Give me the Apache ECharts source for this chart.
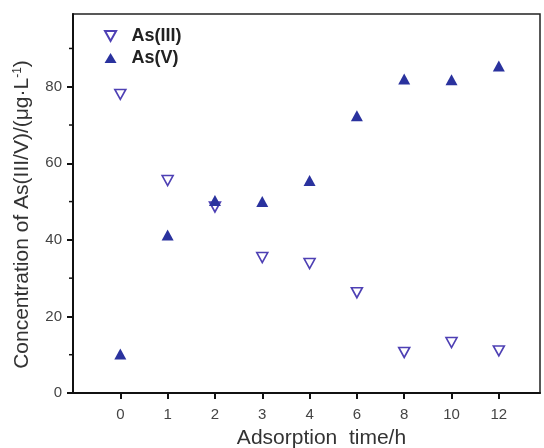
<!DOCTYPE html>
<html><head><meta charset="utf-8">
<script src="https://cdn.jsdelivr.net/npm/echarts@6/dist/echarts.min.js"></script>
<style>html,body{margin:0;padding:0;background:#fff}#c{width:544px;height:448px}</style>
</head><body><div id="c"></div>
<script>
const timeLabels = ['0','1','2','3','4','6','8','10','12'];
const as3 = [78, 55.5, 48.6, 35.4, 33.8, 26.2, 10.6, 13.2, 11.0];
const as5 = [10.2, 41.3, 50.3, 50.0, 55.5, 72.4, 82.0, 81.8, 85.4];
const yTicks = [0, 20, 40, 60, 80];

const xIdx = timeLabels.map((t, i) => i);
const downTri = 'path://M0,0 L10,0 L5,9 Z';
const chart = echarts.init(document.getElementById('c'));
const font = 'Liberation Sans, Arial, sans-serif';
chart.setOption({
  animation: false,
  backgroundColor: '#fff',
  grid: { left: 73, right: 4, top: 14, bottom: 55, show: true, borderColor: '#222', borderWidth: 1.5,
    containLabel: false, outerBoundsMode: 'none' },
  legend: {
    left: 99, top: 22, orient: 'vertical', itemGap: 4, itemWidth: 12, itemHeight: 10,
    textStyle: { fontFamily: font, fontSize: 18, fontWeight: 'bold', color: '#222', padding: [0, 0, 0, 10] },
    data: [{ name: 'As(III)', icon: downTri }, { name: 'As(V)', icon: 'triangle' }]
  },
  xAxis: {
    type: 'value', min: -1, max: 8.87,
    axisLine: { show: true, onZero: false, lineStyle: { color: '#111', width: 2 } },
    axisTick: { show: true, length: 6, customValues: xIdx, lineStyle: { color: '#111', width: 2 } },
    splitLine: { show: false },
    axisLabel: { fontFamily: font, fontSize: 15, color: '#444', margin: 14, customValues: xIdx,
      formatter: v => timeLabels[Math.round(v)] },
    name: 'Adsorption  time/h', nameLocation: 'middle', nameGap: 35,
    nameTextStyle: { fontFamily: font, fontSize: 21, color: '#333', padding: [0, 0, 0, 30] }
  },
  yAxis: {
    type: 'value', min: 0, max: 99, interval: 10,
    axisLine: { show: true, onZero: false, lineStyle: { color: '#111', width: 2 } },
    axisTick: { show: true, length: 6, customValues: yTicks, lineStyle: { color: '#111', width: 2 } },
    splitLine: { show: false },
    axisLabel: { fontFamily: font, fontSize: 15, color: '#444', margin: 11, customValues: yTicks },
    name: 'Concentration of As(III/V)/(μg·L{s|-1})', nameLocation: 'middle', nameGap: 40, nameRotate: 90,
    nameTextStyle: { fontFamily: font, fontSize: 21, color: '#333', padding: [0, 22, 0, 0],
      rich: { s: { fontFamily: font, fontSize: 12, color: '#333', verticalAlign: 'top', lineHeight: 12 } } }
  },
  series: [
    { name: 'As(III)', type: 'scatter', symbol: downTri, symbolSize: [11, 10],
      itemStyle: { color: '#fff', borderColor: '#4e40b4', borderWidth: 1.6, opacity: 1 },
      data: as3.map((v, i) => [i, v]) },
    { name: 'As(V)', type: 'scatter', symbol: 'triangle', symbolSize: [12, 11],
      itemStyle: { color: '#2a329e', opacity: 1 },
      data: as5.map((v, i) => [i, v]) }
  ]
});
// minor ticks on the y axis at the midpoints between labelled ticks
const minor = [10, 30, 50, 70, 90];
chart.setOption({
  graphic: minor.map(v => {
    const p = chart.convertToPixel({ gridIndex: 0 }, [-1, v]);
    return { type: 'line', shape: { x1: p[0] - 4, y1: p[1], x2: p[0], y2: p[1] }, style: { stroke: '#111', lineWidth: 1.5 } };
  })
});
</script></body></html>
